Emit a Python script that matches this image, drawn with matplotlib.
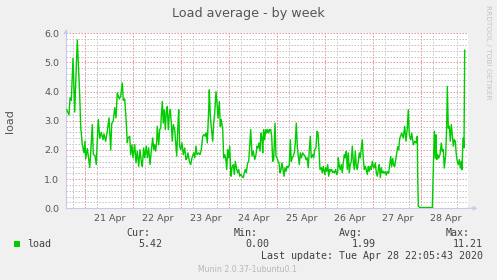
import numpy as np
import pandas as pd
import matplotlib
matplotlib.use('Agg')
import matplotlib.pyplot as plt
import matplotlib.dates as mdates
from matplotlib.patches import Rectangle

# hours since 2020-04-21 00:00, load values
hours = [
    -9.4, -8.25, -7.75, -7.1, -6.25, -5.4, -4.9, -4.1, -3.6, -2.9, -2.4, -1.6, -0.75, -0.25,
    0.1, 0.9, 1.4, 2.1, 2.6, 3.4, 3.9, 4.75, 5.4, 5.9, 6.4, 7.1, 7.9, 8.75, 9.25, 10.1,
    10.9, 11.75, 12.6, 13.1, 13.9, 14.6, 15.25, 15.9, 16.9, 17.6, 18.4, 18.9, 19.6, 20.25,
    20.9, 21.25, 22.1, 22.6, 23.25, 23.75, 24.6, 25.25, 25.9, 26.6, 27.25, 27.9, 28.4, 29.1,
    29.6, 30.4, 30.9, 31.6, 32.25, 32.9, 33.6, 34.1, 34.6, 35.1, 35.6, 35.9, 36.6, 37.1,
    37.6, 37.9, 38.4, 38.9, 39.4, 39.9, 40.4, 40.9, 41.4, 41.9, 42.4, 42.9, 43.4, 43.9,
    44.6, 45.1, 45.6, 46.25, 46.6, 47.1, 47.6, 48.25, 48.9, 49.6, 50.25, 50.75, 51.25, 51.9,
    52.6, 53.25, 54.1, 54.6, 55.25, 55.75, 56.6, 57.25, 57.9, 58.6, 59.25, 59.9, 60.4, 60.9,
    61.6, 61.9, 62.4, 62.9, 63.6, 64.1, 64.6, 65.25, 65.75, 66.25, 66.9, 67.4, 67.9, 68.6,
    69.1, 69.6, 70.1, 70.6, 71.1, 71.6, 72.1, 72.75, 73.25, 73.9, 74.4, 74.9, 75.6, 76.1,
    76.6, 77.1, 77.6, 78.25, 78.9, 79.4, 79.9, 80.4, 81.1, 81.6, 82.1, 82.6, 83.25, 83.9,
    84.6, 85.25, 85.75, 86.25, 86.75, 87.25, 87.75, 88.25, 88.6, 89.1, 89.6, 90.1, 90.6, 91.1,
    91.6, 92.1, 92.6, 93.1, 93.6, 94.1, 94.75, 95.25, 95.75, 96.25, 96.75, 97.25, 97.75, 98.25,
    98.75, 99.25, 99.75, 100.25, 100.75, 101.25, 101.9, 102.4, 102.9, 103.4, 103.9, 104.4, 104.9, 105.4,
    105.9, 106.4, 106.9, 107.4, 107.9, 108.6, 109.1, 109.75, 110.25, 110.75, 111.4, 111.9, 112.4, 112.9,
    113.6, 114.1, 114.6, 115.25, 115.75, 116.25, 116.75, 117.25, 117.9, 118.4, 118.9, 119.6, 120.1, 120.6,
    121.1, 121.6, 122.1, 122.6, 123.1, 123.6, 124.1, 124.6, 125.1, 125.6, 126.1, 126.4, 126.9, 127.4,
    127.9, 128.4, 128.9, 129.4, 129.9, 130.4, 130.9, 131.4, 131.9, 132.4, 132.9, 133.4, 133.9, 134.4,
    134.9, 135.4, 135.9, 136.4, 136.9, 137.4, 137.9, 138.4, 138.9, 139.4, 139.9, 140.4, 140.9, 141.4,
    141.9, 142.4, 142.9, 143.4, 143.9, 144.4, 144.9, 145.4, 145.9, 146.4, 146.9, 147.4, 147.9, 148.4,
    148.9, 149.25, 149.9, 150.4, 150.9, 151.6, 152.1, 152.6, 153.1, 153.6, 154.1, 154.6, 155.1, 155.6,
    156.1, 156.6, 157.1, 158.1, 158.9, 159.6, 160.25, 160.9, 161.4, 161.9, 162.6, 163.1, 163.9, 164.6,
    165.25, 165.9, 166.1, 166.4, 167.25, 169.25, 171.25, 173.4, 173.9, 174.4, 174.9, 175.25, 175.6, 176.1,
    176.6, 177.25, 177.9, 178.4, 178.9, 179.4, 180.1, 180.6, 180.9, 181.4, 181.9, 182.4, 182.9, 183.4,
    183.9, 184.4, 184.9, 185.4, 185.9, 186.4, 186.9, 187.4, 187.9, 188.25, 188.6, 188.9, 189.25, 189.6,
]
load = [
    3.38, 3.2, 3.78, 3.7, 5.14, 3.3, 4.3, 5.77, 5.0, 3.9, 2.8, 2.18, 1.9, 2.3,
    1.7, 2.05, 1.8, 1.4, 1.9, 2.87, 1.85, 1.8, 1.5, 2.35, 3.04, 2.4, 2.6, 2.35, 2.55, 2.3,
    2.65, 3.1, 2.0, 2.9, 3.0, 3.45, 3.1, 3.96, 3.75, 3.85, 4.3, 3.7, 3.75, 3.1,
    2.25, 2.41, 2.47, 1.84, 2.18, 1.73, 2.18, 1.56, 1.96, 1.44, 2.01, 1.61, 1.44, 2.07,
    1.73, 2.13, 1.73, 2.07, 1.50, 1.96, 2.41, 2.01, 2.18, 1.96, 2.30, 2.81, 2.18, 2.70,
    2.75, 3.15, 3.66, 2.92, 3.38, 2.70, 3.32, 3.49, 2.70, 3.21, 3.38, 2.92, 2.30, 2.87,
    2.70, 2.24, 1.79, 2.92, 3.38, 2.13, 2.01, 2.24, 1.84, 2.07, 1.67, 1.73, 1.90, 1.61,
    1.50, 1.73, 1.90, 1.73, 2.13, 1.84, 1.90, 1.84, 2.01, 2.47, 2.53, 2.47, 2.58, 2.24,
    3.38, 4.06, 3.15, 2.81, 2.30, 2.92, 3.27, 4.00, 3.61, 3.09, 3.66, 2.81, 3.04, 2.70,
    1.73, 1.84, 1.73, 1.33, 2.01, 1.73, 2.13, 1.10, 1.39, 1.50, 1.16, 1.61, 1.33, 1.22,
    1.33, 1.10, 1.16, 1.10, 1.05, 1.22, 1.33, 1.22, 1.56, 1.61, 2.13, 2.70, 1.79, 1.96,
    1.67, 1.84, 2.13, 2.07, 2.24, 1.96, 2.58, 2.41, 1.90, 2.70, 2.35, 2.70, 2.58, 2.70,
    2.58, 2.70, 2.70, 2.47, 1.61, 1.67, 2.92, 1.79, 1.73, 1.61, 1.56, 1.22, 1.33, 1.56,
    1.33, 1.10, 1.39, 1.27, 1.44, 1.39, 1.50, 2.35, 1.61, 1.73, 1.79, 1.90, 2.24, 2.92,
    2.13, 1.79, 1.50, 1.90, 1.73, 1.90, 1.84, 1.79, 1.67, 1.73, 1.39, 2.01, 2.47, 1.73,
    1.84, 1.73, 2.01, 2.07, 2.64, 2.58, 2.01, 1.33, 1.39, 1.22, 1.44, 1.16, 1.39, 1.27,
    1.50, 1.10, 1.33, 1.27, 1.33, 1.22, 1.27, 1.22, 1.33, 1.16, 1.22, 1.73, 1.44, 1.33,
    1.50, 1.22, 1.56, 1.84, 1.73, 1.96, 1.33, 1.90, 1.22, 1.50, 1.61, 2.13, 1.61, 1.33,
    1.96, 1.44, 1.33, 1.61, 1.90, 1.73, 2.07, 2.35, 1.67, 1.33, 1.44, 1.33, 1.16, 1.44,
    1.27, 1.44, 1.33, 1.61, 1.44, 1.39, 1.56, 1.22, 1.10, 1.33, 1.50, 1.05, 1.39, 1.22,
    1.27, 1.20, 1.26, 1.14, 1.26, 1.20, 1.48, 1.77, 1.43, 1.71, 1.48, 1.43, 1.65, 1.88,
    2.11, 2.00, 2.39, 2.58, 2.41, 2.81, 2.30, 2.75, 3.38, 2.52, 2.35, 2.58, 2.18, 2.30,
    2.24, 2.47, 1.15, 0.07, 0.03, 0.02, 0.03, 0.02, 1.27, 2.64, 1.72, 2.52, 1.67, 1.84,
    1.72, 1.84, 2.24, 1.95, 2.01, 1.38, 1.84, 2.81, 4.18, 2.75, 2.81, 2.30, 2.87, 2.52,
    2.13, 2.35, 2.30, 1.84, 1.61, 1.50, 1.67, 1.38, 1.61, 1.32, 2.13, 2.41, 2.07, 5.42,
]

base = pd.Timestamp('2020-04-21 00:00')
t_start = base + pd.Timedelta(hours=-9.75)
t_end = base + pd.Timedelta(hours=191.4)
days = pd.date_range('2020-04-21', '2020-04-28', freq='D')

stats_names = ['Cur:', 'Min:', 'Avg:', 'Max:']
stats_values = ['5.42', '0.00', '1.99', '11.21']

times = base + pd.to_timedelta(hours, unit='h')

W, H = 497, 280
fig = plt.figure(figsize=(W / 100, H / 100), dpi=100, facecolor='#f0f0f0')
ax = fig.add_axes([66 / W, (H - 208.3) / H, (468.3 - 66) / W, (208.3 - 33.3) / H])
ax.set_facecolor('white')

dot = (0, (1.5, 1.5))
grid_gray = '#c4c4c4'
grid_red = '#e89a9a'
axis_col = '#c8c8f0'

ax.set_xlim(t_start, t_end)
ax.set_ylim(0, 6.0)

# minor grid every 6 h / 0.2, major red every day / 1.0
ax.xaxis.set_minor_locator(mdates.HourLocator(byhour=[0, 6, 12, 18]))
ax.xaxis.set_major_locator(mdates.HourLocator(byhour=[12]))
ax.xaxis.set_major_formatter(mdates.DateFormatter('%d %b'))
ax.set_yticks(np.arange(0, 6.01, 1.0))
ax.set_yticks(np.arange(0, 6.01, 0.2), minor=True)
ax.yaxis.set_major_formatter(plt.FormatStrFormatter('%.1f'))

ax.grid(which='minor', color=grid_gray, linestyle=dot, linewidth=0.72)
ax.grid(which='major', axis='y', color=grid_red, linestyle=dot, linewidth=0.72)
for d in days:
    ax.axvline(d, color=grid_red, linestyle=dot, linewidth=0.72, zorder=1)
ax.axvline(t_end, color=grid_gray, linestyle=dot, linewidth=0.72, zorder=1)
ax.set_axisbelow(True)

ax.plot(times, load, color='#00cc00', linewidth=1.0, zorder=3)

for s in ['top', 'right']:
    ax.spines[s].set_visible(False)
for s in ['left', 'bottom']:
    ax.spines[s].set_color(axis_col)
    ax.spines[s].set_linewidth(0.8)
ax.tick_params(which='both', length=0, colors='#555555', labelsize=6.8)
ax.tick_params(axis='x', pad=4)
ax.tick_params(axis='y', pad=5)

# axis arrows
ax.annotate('', xy=(1.03, 0), xytext=(0.99, 0), xycoords='axes fraction',
            arrowprops=dict(arrowstyle='-|>', color=axis_col, lw=0.8, mutation_scale=6))
ax.annotate('', xy=(0, 1.04), xytext=(0, 0.99), xycoords='axes fraction',
            arrowprops=dict(arrowstyle='-|>', color=axis_col, lw=0.8, mutation_scale=6))

fig.text(247.9 / W, 1 - 13.3 / H, 'Load average - by week', ha='center', va='center',
         fontsize=9.2, color='#555555')
fig.text(10 / W, 1 - 120.8 / H, 'load', rotation=90, ha='center', va='center',
         fontsize=8, color='#555555')
fig.text(488 / W, 1 - 5 / H, 'RRDTOOL / TOBI OETIKER', rotation=270, ha='center', va='top',
         fontsize=5.3, color='#c4c4c4')

mono = dict(family='DejaVu Sans Mono', fontsize=7.2, color='#404040', va='center')
name_x = [150.7, 257.7, 362.7, 470]
value_x = [162.7, 269.3, 376, 482.7]
for nx, name in zip(name_x, stats_names):
    fig.text(nx / W, 1 - 233.3 / H, name, ha='right', **mono)
for vx, val in zip(value_x, stats_values):
    fig.text(vx / W, 1 - 244.3 / H, val, ha='right', **mono)
fig.text(26.7 / W, 1 - 244.3 / H, 'load', ha='left', **mono)
fig.patches.append(Rectangle((14 / W, 1 - 247 / H), 6 / W, 6 / H, transform=fig.transFigure,
                             facecolor='#00cc00', edgecolor='none'))
fig.text(482.7 / W, 1 - 256 / H, 'Last update: Tue Apr 28 22:05:43 2020', ha='right', **mono)
fig.text(248 / W, 1 - 269.3 / H, 'Munin 2.0.37-1ubuntu0.1', ha='center', va='center',
         fontsize=5.6, color='#b8b8b8')

fig.savefig('out.png', dpi=100, facecolor=fig.get_facecolor())
